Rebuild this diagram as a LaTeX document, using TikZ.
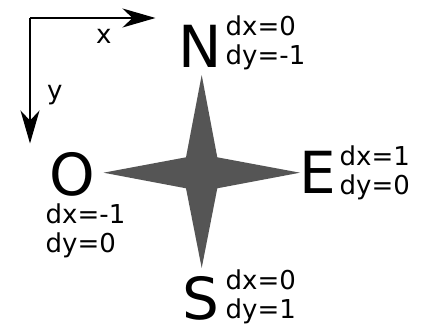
\documentclass[tikz,border=0pt]{standalone}
\usepackage{fontspec}
\setmainfont{DejaVu Sans}
\usetikzlibrary{arrows.meta}
\tikzset{
  axis/.style={line width=2pt,-{Stealth[length=33pt,width=19pt,inset=10pt]}},
  big/.style={anchor=base west,inner sep=0pt,font=\fontsize{58}{60}\selectfont},
  small/.style={anchor=base west,inner sep=0pt,font=\fontsize{26}{30}\selectfont},
  starfill/.style={fill={rgb,255:red,85;green,85;blue,85}}
}
\begin{document}
\begin{tikzpicture}[x=1pt,y=-1pt]
\useasboundingbox (0,0) rectangle (426,324);
% axes
\coordinate (o) at (30,18);
\coordinate (xend) at (155.5,18);
\coordinate (yend) at (30,143.5);
\draw[axis] (o) -- (xend);
\draw[axis] (o) -- (yend);
\node[small] (xl) at (96,43) {x};
\node[small] (yl) at (47,99) {y};
% star
\fill[starfill] (201.7,75) -- (217.3,157.3) -- (300,172.7) -- (217.3,188.3)
  -- (201.7,268) -- (186,188.3) -- (103.5,172.7) -- (186,157.3) -- cycle;
% N
\node[big] (N) at (178,67) {N};
\node[small] (Ndx) at (225.5,35) {dx=0};
\node[small] (Ndy) at (225.5,64) {dy=-1};
% E
\node[big] (E) at (299.5,193) {E};
\node[small] (Edx) at (339.5,165) {dx=1};
\node[small] (Edy) at (339.5,194) {dy=0};
% O
\node[big] (O) at (49,195) {O};
\node[small] (Odx) at (45.5,223) {dx=-1};
\node[small] (Ody) at (45.5,252) {dy=0};
% S
\node[big] (S) at (182,319.5) {S};
\node[small] (Sdx) at (225.5,289) {dx=0};
\node[small] (Sdy) at (225.5,318) {dy=1};
\end{tikzpicture}
\end{document}
